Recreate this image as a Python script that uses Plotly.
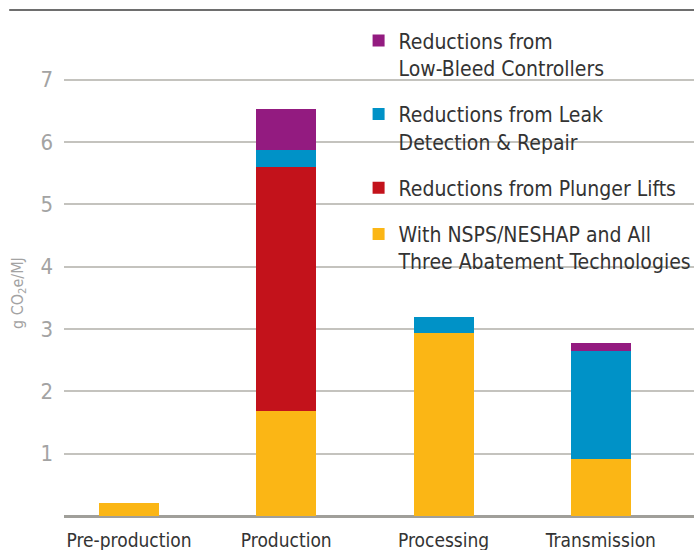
import plotly.graph_objects as go

categories = ["Pre-production", "Production", "Processing", "Transmission"]
with_all_three = [0.21, 1.69, 2.94, 0.915]
plunger_lifts = [0, 3.91, 0, 0]
leak_detection = [0, 0.27, 0.25, 1.735]
low_bleed = [0, 0.66, 0, 0.13]

series_names = [
    "With NSPS/NESHAP and All<br>Three Abatement Technologies",
    "Reductions from Plunger Lifts",
    "Reductions from Leak<br>Detection & Repair",
    "Reductions from<br>Low-Bleed Controllers",
]
series_values = [with_all_three, plunger_lifts, leak_detection, low_bleed]
series_colors = ["#FBB615", "#C3121B", "#0092C7", "#931B80"]
legend_ranks = [4, 3, 2, 1]

FONT = "Liberation Sans Narrow, DejaVu Sans Condensed, Arial Narrow, sans-serif"

fig = go.Figure()
for i, (name, vals, col) in enumerate(zip(series_names, series_values, series_colors)):
    fig.add_trace(go.Bar(
        x=list(range(len(categories))), y=vals, name=name,
        marker=dict(color=col, line=dict(width=0)),
        width=0.381, legendgroup=f"g{i}", legendrank=legend_ranks[i],
    ))

fig.update_layout(
    width=694, height=550,
    margin=dict(l=64, r=0, t=61, b=34, autoexpand=False),
    barmode="stack",
    plot_bgcolor="white", paper_bgcolor="white",
    font=dict(family=FONT),
    showlegend=True,
    legend=dict(
        x=0.4676, y=0.963, xanchor="left", yanchor="top",
        yref="container",
        traceorder="grouped", tracegroupgap=16, valign="top",
        font=dict(size=21, color="#333333", family=FONT),
        bgcolor="rgba(255,255,255,0)", itemwidth=30,
    ),
    xaxis=dict(
        range=[-0.413, 3.592],
        tickmode="array", tickvals=list(range(len(categories))), ticktext=categories,
        showgrid=False, showline=False, zeroline=False,
        tickfont=dict(size=19, color="#333333", family=FONT),
        ticks="", ticklabelstandoff=11,
    ),
    yaxis=dict(
        range=[0, 7.3],
        tickmode="array", tickvals=[1, 2, 3, 4, 5, 6, 7],
        showgrid=True, gridcolor="#C4C3BE", gridwidth=1.5,
        zeroline=True, zerolinecolor="#A09F9A", zerolinewidth=2.5,
        showline=False, ticks="", ticklabelstandoff=10,
        tickfont=dict(size=22, color="#A3A3A3", family=FONT),
    ),
)

fig.add_shape(type="line", xref="paper", yref="paper",
              x0=-0.087, x1=1.0, y0=(550 - 10 - 34) / (550 - 61 - 34), y1=(550 - 10 - 34) / (550 - 61 - 34),
              line=dict(color="#6E6E6E", width=2))

fig.add_annotation(
    text="g CO<sub>2</sub>e/MJ", xref="paper", yref="paper",
    x=-0.073, y=0.49, xanchor="center", yanchor="middle", textangle=-90,
    showarrow=False, font=dict(size=16, color="#A3A3A3", family=FONT),
)

fig.write_html("out.html", config={"displayModeBar": False},
               post_script="document.body.style.margin='0';document.body.style.overflow='hidden';")
